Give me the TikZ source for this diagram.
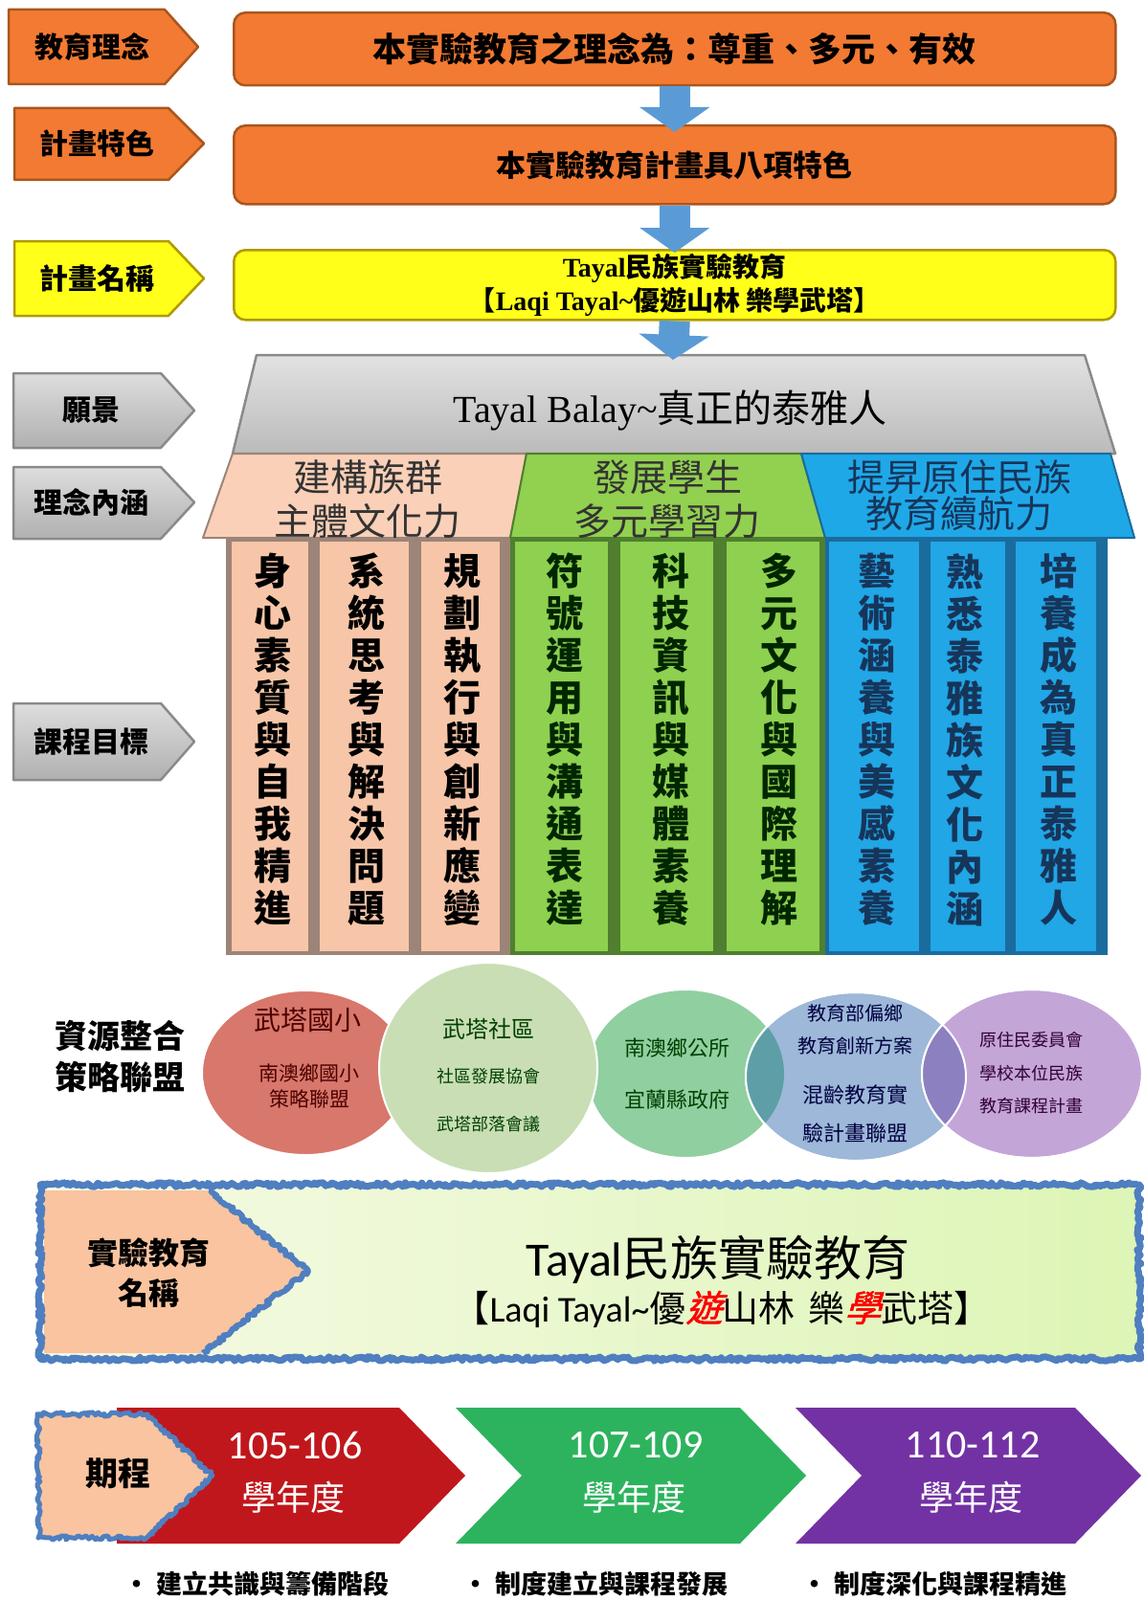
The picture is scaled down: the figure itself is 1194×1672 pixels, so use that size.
\documentclass[tikz,border=0pt]{standalone}
\usepackage{fontspec}
\setmainfont{Noto Sans CJK TC}
\newfontfamily\lser{Liberation Serif}
\newfontfamily\carl{Carlito}
\newfontfamily\cjkit{Noto Sans CJK TC}[FakeSlant=0.25,FakeBold=1.5]
\usetikzlibrary{arrows.meta,decorations.pathmorphing}
\newcommand\fsz[2]{\fontsize{#1}{#2}\selectfont}
\definecolor{orgF}{HTML}{F37A32}
\definecolor{orgD}{HTML}{A9561E}
\definecolor{yelF}{HTML}{FFFF1A}
\definecolor{yelD}{HTML}{B09A00}
\definecolor{gryF}{HTML}{CFCFCF}
\definecolor{gryD}{HTML}{8A8A8A}
\definecolor{arrB}{HTML}{5B9BD5}
\definecolor{pchH}{HTML}{FAD0B8}
\definecolor{pchD}{HTML}{9C8478}
\definecolor{pchF}{HTML}{F7C6A8}
\definecolor{grnH}{HTML}{92D050}
\definecolor{grnD}{HTML}{4F7F2F}
\definecolor{grnF}{HTML}{8ED04F}
\definecolor{bluH}{HTML}{1FA8E8}
\definecolor{bluD}{HTML}{1B6C9E}
\definecolor{bluF}{HTML}{21A6E6}
\definecolor{bluT}{HTML}{16355A}
\definecolor{cRed}{HTML}{D8776B}
\definecolor{cGrn}{HTML}{C9DEB5}
\definecolor{cMnt}{HTML}{90CFA0}
\definecolor{cBlu}{HTML}{9DB8D8}
\definecolor{cPur}{HTML}{C4A5D8}
\definecolor{cTeal}{HTML}{5E9EA6}
\definecolor{cPurD}{HTML}{8C80C0}
\definecolor{bnL}{HTML}{F6FAE6}
\definecolor{bnR}{HTML}{DDF5B5}
\definecolor{bnB}{HTML}{4F7FC0}
\definecolor{pch2}{HTML}{F9C49F}
\definecolor{chR}{HTML}{C0171C}
\definecolor{chG}{HTML}{2DB35E}
\definecolor{chP}{HTML}{7332A4}
\tikzset{
  lbl/.style={inner sep=0pt, align=center},
  tagO/.style={fill=orgF, draw=orgD, line width=2.5pt, line join=round},
  tagY/.style={fill=yelF, draw=yelD, line width=2.5pt, line join=round},
  tagG/.style={top color=gryF!70!white, bottom color=gryF!85!black, draw=gryD, line width=2.5pt, line join=round},
  boxO/.style={fill=orgF, draw=orgD, line width=2.5pt, rounded corners=12pt, inner sep=0pt, align=center},
  boxY/.style={fill=yelF, draw=yelD, line width=2.5pt, rounded corners=12pt, inner sep=0pt, align=center},
  bluearr/.style={draw=arrB, line width=32pt, -{Triangle[length=26pt, width=72pt]}},
  jag/.style={draw=bnB, line width=6pt, line join=round, decorate,
              decoration={random steps, segment length=2.5pt, amplitude=2.2pt}},
  circ/.style={draw=white, line width=2pt},
  pil/.style={lbl, font=\fsz{39}{44}\bfseries},
}
\begin{document}
\begin{tikzpicture}[x=1pt,y=-1pt]
\useasboundingbox (0,0) rectangle (1194,1672);
\fill[white] (0,0) rectangle (1194,1672);

% ---------- left tags (top part) ----------
\path[tagO] (9,10) -- (172,10) -- (207,49) -- (172,88) -- (9,88) -- cycle;
\node[lbl, font=\fsz{30}{36}\bfseries] (t1) at (96,49) {教育理念};
\path[tagO] (15,113) -- (176,113) -- (213,150) -- (176,188) -- (15,188) -- cycle;
\node[lbl, font=\fsz{30}{36}\bfseries] (t2) at (101,150) {計畫特色};
\path[tagY] (15,252) -- (176,252) -- (213,291) -- (176,330) -- (15,330) -- cycle;
\node[lbl, font=\fsz{30}{36}\bfseries] (t3) at (101,291) {計畫名稱};
\path[tagG] (14,390) -- (168,390) -- (203,429) -- (168,468) -- (14,468) -- cycle;
\node[lbl, font=\fsz{30}{36}\bfseries] (t4) at (95,429) {願景};
\path[tagG] (14,488) -- (168,488) -- (203,525) -- (168,563) -- (14,563) -- cycle;
\node[lbl, font=\fsz{30}{36}\bfseries] (t5) at (95,525) {理念內涵};
\path[tagG] (14,735) -- (168,735) -- (203,775) -- (168,815) -- (14,815) -- cycle;
\node[lbl, font=\fsz{30}{36}\bfseries] (t6) at (95,775) {課程目標};

% ---------- top boxes ----------
\node[boxO, minimum width=921pt, minimum height=76pt, anchor=north west,
      font=\fsz{35}{42}\bfseries] (b1) at (243,12) {本實驗教育之理念為：尊重、多元、有效};
\node[boxO, minimum width=921pt, minimum height=82pt, anchor=north west,
      font=\fsz{31}{38}\bfseries] (b2) at (243,130) {本實驗教育計畫具八項特色};
\node[boxY, minimum width=921pt, minimum height=73pt, anchor=north west,
      font=\fsz{28}{35}\bfseries] (b3) at (243,260)
      {{\lser\bfseries Tayal}民族實驗教育\\【{\lser\bfseries Laqi Tayal\textasciitilde}優遊山林 樂學武塔】};

% ---------- roof ----------
\path[top color=gryF!60!white, bottom color=gryF!90!black, draw=gryD, line width=2.5pt, line join=round]
  (268,371) -- (1133,371) -- (1165,474) -- (243,474) -- cycle;
\coordinate (roofTop) at (703,376);
\node[lbl, font=\fsz{40}{46}] (vision) at (700,429) {{\lser Tayal Balay\textasciitilde}真正的泰雅人};

% ---------- header row ----------
\path[fill=pchH, draw=pchD, line width=2pt, line join=round] (243,474) -- (550,474) -- (533,562) -- (212,562) -- cycle;
\path[fill=grnH, draw=grnD, line width=2pt, line join=round] (550,474) -- (837,474) -- (862,562) -- (533,562) -- cycle;
\path[fill=bluH, draw=bluD, line width=2pt, line join=round] (837,474) -- (1160,474) -- (1185,562) -- (862,562) -- cycle;
\node[lbl, font=\fsz{39}{46}, text=black!80] (h1) at (384,522) {建構族群\\主體文化力};
\node[lbl, font=\fsz{39}{46}, text=black!80] (h2) at (697,522) {發展學生\\多元學習力};
\node[lbl, font=\fsz{39}{38}, text=bluT] (h3) at (1002,518) {提昇原住民族\\教育續航力};

% ---------- pillars ----------
\fill[pchD] (236,562) rectangle (533,998);
\fill[grnD] (533,562) rectangle (862,998);
\fill[bluD] (862,562) rectangle (1157,998);
\fill[pchF] (242,566) rectangle (322,994);
\fill[pchF] (334,566) rectangle (427,994);
\fill[pchF] (440,566) rectangle (522,994);
\fill[grnF] (538,566) rectangle (635,994);
\fill[grnF] (648,566) rectangle (745,994);
\fill[grnF] (759,566) rectangle (856,994);
\fill[bluF] (866,566) rectangle (960,994);
\fill[bluF] (972,566) rectangle (1050,994);
\fill[bluF] (1061,566) rectangle (1145,994);
\node[pil] (p1) at (285,773) {身\\心\\素\\質\\與\\自\\我\\精\\進};
\node[pil] (p2) at (383,773) {系\\統\\思\\考\\與\\解\\決\\問\\題};
\node[pil] (p3) at (483,773) {規\\劃\\執\\行\\與\\創\\新\\應\\變};
\node[pil, text=black!85!green] (p4) at (590,773) {符\\號\\運\\用\\與\\溝\\通\\表\\達};
\node[pil, text=black!85!green] (p5) at (701,773) {科\\技\\資\\訊\\與\\媒\\體\\素\\養};
\node[pil, text=black!85!green] (p6) at (814,773) {多\\元\\文\\化\\與\\國\\際\\理\\解};
\node[pil, text=bluT] (p7) at (916,773) {藝\\術\\涵\\養\\與\\美\\感\\素\\養};
\node[pil, text=bluT] (p8) at (1008,773) {熟\\悉\\泰\\雅\\族\\文\\化\\內\\涵};
\node[pil, text=bluT] (p9) at (1106,773) {培\\養\\成\\為\\真\\正\\泰\\雅\\人};

% ---------- blue arrows ----------
\draw[bluearr] (b1.south) -- ([yshift=-8pt]b2.north);
\draw[bluearr] (b2.south) -- ([yshift=-4pt]b3.north);
\draw[bluearr] (b3.south) -- (roofTop);

% ---------- resources ----------
\node[lbl, font=\fsz{34}{43}\bfseries] (res) at (125,1104) {資源整合\\策略聯盟};
\fill[cRed, circ] (319,1121) ellipse [x radius=108, y radius=86];
\fill[cMnt, circ] (716,1122) ellipse [x radius=103, y radius=88];
\fill[cBlu, circ] (894,1125) ellipse [x radius=115, y radius=88];
\fill[cPur, circ] (1078,1122) ellipse [x radius=115, y radius=88];
\begin{scope}
  \clip (716,1122) ellipse [x radius=103, y radius=88];
  \fill[cTeal] (894,1125) ellipse [x radius=115, y radius=88];
\end{scope}
\begin{scope}
  \clip (894,1125) ellipse [x radius=115, y radius=88];
  \fill[cPurD] (1078,1122) ellipse [x radius=115, y radius=88];
\end{scope}
\draw[white, line width=2pt] (1078,1122) ellipse [x radius=115, y radius=88];
\draw[white, line width=2pt] (894,1125) ellipse [x radius=115, y radius=88];
\fill[cGrn, circ] (510,1116) ellipse [x radius=114, y radius=110];

\node[lbl, font=\fsz{28}{32}, text=red!30!black] (c1a) at (321,1066) {武塔國小};
\node[lbl, font=\fsz{21}{27}, text=red!30!black] (c1b) at (323,1135) {南澳鄉國小\\策略聯盟};
\node[lbl, font=\fsz{24}{29}, text=black!75!green] (c2a) at (510,1075) {武塔社區};
\node[lbl, font=\fsz{18}{22}, text=black!75!green] (c2b) at (510,1125) {社區發展協會};
\node[lbl, font=\fsz{18}{22}, text=black!75!green] (c2c) at (510,1175) {武塔部落會議};
\node[lbl, font=\fsz{22}{27}, text=green!25!black] (c3a) at (707,1095) {南澳鄉公所};
\node[lbl, font=\fsz{22}{27}, text=green!25!black] (c3b) at (707,1149) {宜蘭縣政府};
\node[lbl, font=\fsz{20}{24}, text=blue!25!black] (c4a) at (893,1059) {教育部偏鄉};
\node[lbl, font=\fsz{20}{24}, text=blue!25!black] (c4b) at (893,1093) {教育創新方案};
\node[lbl, font=\fsz{22}{27}, text=blue!25!black] (c4c) at (893,1144) {混齡教育實};
\node[lbl, font=\fsz{22}{27}, text=blue!25!black] (c4d) at (893,1184) {驗計畫聯盟};
\node[lbl, font=\fsz{18}{22}, text=violet!40!black] (c5a) at (1077,1087) {原住民委員會};
\node[lbl, font=\fsz{18}{22}, text=violet!40!black] (c5b) at (1077,1122) {學校本位民族};
\node[lbl, font=\fsz{18}{22}, text=violet!40!black] (c5c) at (1077,1156) {教育課程計畫};

% ---------- banner ----------
\path[left color=bnL, right color=bnR] (42,1238) rectangle (1190,1420);
\path[fill=pch2] (46,1244) -- (218,1244) -- (322,1328) -- (212,1414) -- (46,1414) -- cycle;
\draw[jag] (218,1244) -- (322,1328) -- (212,1414);
\draw[jag, line width=7pt] (42,1238) rectangle (1190,1420);
\node[lbl, font=\fsz{32}{42}\bfseries] (bnTag) at (155,1330) {實驗教育\\名稱};
\node[lbl, font=\fsz{50}{56}] (bn1) at (750,1316) {{\carl Tayal}民族實驗教育};
\node[lbl, font=\fsz{38}{44}] (bn2) at (754,1368)
  {【{\carl Laqi Tayal\textasciitilde}優{\cjkit\color{red}遊}山林\hspace{14pt}樂{\cjkit\color{red}學}武塔】};

% ---------- schedule ----------
\path[fill=chR] (122,1471) -- (417,1471) -- (486,1542) -- (417,1613) -- (122,1613) -- cycle;
\path[fill=chG] (476,1471) -- (773,1471) -- (842,1542) -- (773,1613) -- (476,1613) -- (545,1542) -- cycle;
\path[fill=chP] (831,1471) -- (1123,1471) -- (1192,1542) -- (1123,1613) -- (831,1613) -- (900,1542) -- cycle;
\path[fill=pch2] (40,1478) -- (153,1478) -- (222,1542) -- (153,1607) -- (40,1607) -- cycle;
\draw[jag, line width=5pt] (40,1478) -- (153,1478) -- (222,1542) -- (153,1607) -- (40,1607) -- cycle;
\node[lbl, font=\fsz{34}{40}\bfseries] (sch) at (123,1540) {期程};
\node[lbl, font=\fsz{42}{48}\carl, text=white] (y1) at (308,1510) {105-106};
\node[lbl, font=\fsz{36}{42}, text=white] (y1b) at (306,1565) {學年度};
\node[lbl, font=\fsz{42}{48}\carl, text=white] (y2) at (664,1510) {107-109};
\node[lbl, font=\fsz{36}{42}, text=white] (y2b) at (662,1565) {學年度};
\node[lbl, font=\fsz{42}{48}\carl, text=white] (y3) at (1016,1510) {110-112};
\node[lbl, font=\fsz{36}{42}, text=white] (y3b) at (1014,1565) {學年度};
\node[lbl, font=\fsz{27}{32}\bfseries] (s1) at (268,1655) {• 建立共識與籌備階段};
\node[lbl, font=\fsz{27}{32}\bfseries] (s2) at (622,1655) {• 制度建立與課程發展};
\node[lbl, font=\fsz{27}{32}\bfseries] (s3) at (976,1655) {• 制度深化與課程精進};
\end{tikzpicture}
\end{document}
